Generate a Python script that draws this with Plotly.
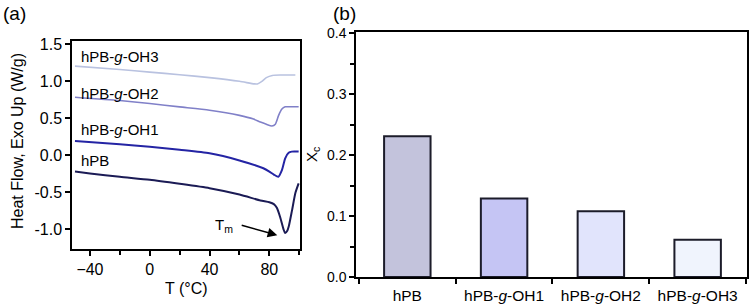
import plotly.graph_objects as go

# ---- Panel (a) DSC data ----
T_hPB = [-50, -40, -20, 0, 20, 40, 60, 74, 80, 83, 85, 87.3, 89.5, 90.6, 92, 93, 95.2, 97.4, 99.6]
v_hPB = [-0.22, -0.245, -0.29, -0.33, -0.385, -0.445, -0.53, -0.61, -0.635, -0.66, -0.71, -0.84, -1.0, -1.05, -1.02, -0.96, -0.74, -0.51, -0.38]

T_OH1 = [-50, -20, 0, 20, 40, 60, 76, 80, 83, 86, 88.4, 90.6, 92.9, 95, 99.6]
v_OH1 = [0.195, 0.15, 0.117, 0.075, 0.027, -0.07, -0.175, -0.22, -0.26, -0.29, -0.2, -0.04, 0.035, 0.05, 0.05]

T_OH2 = [-50, -20, 0, 20, 40, 60, 69.4, 74, 78, 81.7, 84, 86.2, 88.4, 90.6, 92, 99.6]
v_OH2 = [0.785, 0.74, 0.70, 0.655, 0.61, 0.54, 0.49, 0.45, 0.42, 0.396, 0.42, 0.54, 0.625, 0.655, 0.657, 0.657]

T_OH3 = [-50, -20, 0, 20, 40, 60, 70, 72, 75, 78, 82, 88, 97.4]
v_OH3 = [1.205, 1.16, 1.125, 1.09, 1.05, 1.0, 0.965, 0.965, 1.0, 1.05, 1.08, 1.085, 1.085]

curve_names = ["hPB", "hPB-<i>g</i>-OH1", "hPB-<i>g</i>-OH2", "hPB-<i>g</i>-OH3"]
curve_colors = ["#1b1b55", "#2424a4", "#8080c8", "#b9c2e0"]
curve_label_y = [-0.075, 0.355, 0.835, 1.335]

# ---- Panel (b) crystallinity ----
categories = ["hPB", "hPB-<i>g</i>-OH1", "hPB-<i>g</i>-OH2", "hPB-<i>g</i>-OH3"]
xc_values = [0.231, 0.129, 0.108, 0.061]
bar_colors = ["#c3c3dc", "#c5c5f4", "#e1e4fc", "#f0f4fd"]

fig = go.Figure()

series = [(T_hPB, v_hPB), (T_OH1, v_OH1), (T_OH2, v_OH2), (T_OH3, v_OH3)]
widths = [2, 2, 1.6, 1.6]
for (T, v), c, w, n in zip(series, curve_colors, widths, curve_names):
    fig.add_trace(go.Scatter(x=T, y=v, mode="lines", name=n,
                             line=dict(color=c, width=w, shape="spline", smoothing=0.6),
                             xaxis="x", yaxis="y", showlegend=False))

fig.add_trace(go.Bar(x=categories, y=xc_values, marker=dict(color=bar_colors, line=dict(color="#1c1c2a", width=2)),
                     width=0.48, xaxis="x2", yaxis="y2", showlegend=False))

font = "Liberation Sans, Arial, sans-serif"
axis_common = dict(showline=True, linecolor="black", linewidth=1.5, mirror=True,
                   ticks="outside", ticklen=5, tickwidth=1.5, tickcolor="black",
                   showgrid=False, zeroline=False, automargin=False)

fig.update_layout(
    template="none",
    width=750, height=306,
    margin=dict(l=0, r=0, t=0, b=0, autoexpand=False),
    paper_bgcolor="white", plot_bgcolor="white",
    font=dict(family=font, color="black"),
    xaxis=dict(domain=[0.096, 0.4], range=[-52, 100.5], tickvals=[-40, 0, 40, 80],
               tickfont=dict(size=16), minor=dict(tickvals=[-20, 20, 60, 100], ticks="outside", ticklen=4, tickwidth=1.5, tickcolor="black"),
               anchor="y", **axis_common),
    yaxis=dict(domain=[0.1863, 0.866], range=[-1.266, 1.545], tickvals=[-1.0, -0.5, 0.0, 0.5, 1.0, 1.5],
               ticktext=["-1.0", "-0.5", "0.0", "0.5", "1.0", "1.5"],
               tickfont=dict(size=16), anchor="x", **axis_common),
    xaxis2=dict(domain=[0.4747, 0.996], range=[-0.53, 3.51], type="category", tickson="boundaries",
                tickfont=dict(size=15.5), ticklabelstandoff=4, anchor="y2", **axis_common),
    yaxis2=dict(domain=[0.0948, 0.8954], range=[0, 0.402], tickvals=[0, 0.1, 0.2, 0.3, 0.4],
                ticktext=["0.0", "0.1", "0.2", "0.3", "0.4"],
                minor=dict(tickvals=[0.05, 0.15, 0.25, 0.35], ticks="outside", ticklen=4, tickwidth=1.5, tickcolor="black"),
                tickfont=dict(size=14), anchor="x2", **axis_common),
)

annotations = []
for n, y in zip(curve_names, curve_label_y):
    annotations.append(dict(x=-47.5, y=y, xref="x", yref="y", text=n, showarrow=False,
                            xanchor="left", yanchor="middle", font=dict(size=15)))

def paper_text(px, py, text, size, angle=0):
    return dict(x=px / 750, y=1 - py / 306, xref="paper", yref="paper", text=text, textangle=angle,
                showarrow=False, xanchor="center", yanchor="middle", font=dict(size=size))

annotations += [
    dict(x=49.8, y=-0.955, xref="x", yref="y", text="T<sub>m</sub>", showarrow=False,
         xanchor="center", yanchor="middle", font=dict(size=15)),
    dict(x=85.3, y=-1.08, ax=60.5, ay=-0.94, xref="x", yref="y", axref="x", ayref="y",
         text="", showarrow=True, arrowhead=2, arrowsize=1.2, arrowwidth=1.6, arrowcolor="black"),
    paper_text(18, 141, "Heat Flow, Exo Up (W/g)", 16, -90),
    paper_text(186, 288, "T (°C)", 16),
    paper_text(312, 155, "X<sub>c</sub>", 15, -90),
    paper_text(14, 14, "(a)", 19),
    paper_text(344, 14, "(b)", 19),
]
fig.update_layout(annotations=annotations)

fig.write_html("out.html", config={"displayModeBar": False},
               post_script="document.body.style.margin='0';document.body.style.overflow='hidden';")
